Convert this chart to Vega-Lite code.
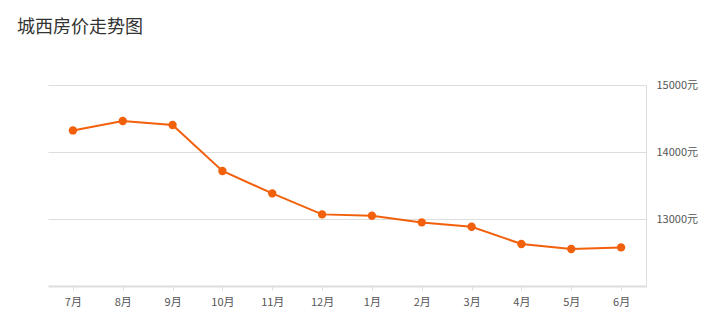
{
  "$schema": "https://vega.github.io/schema/vega-lite/v6.json",
  "autosize": "none",
  "width": 598,
  "height": 201,
  "padding": {"left": 48, "top": 85, "right": 75, "bottom": 40},
  "background": "#ffffff",
  "title": {
    "text": "城西房价走势图",
    "anchor": "start",
    "frame": "group",
    "dx": -31,
    "offset": 42,
    "fontSize": 18,
    "fontWeight": "normal",
    "font": "Noto Sans CJK SC",
    "color": "#333333"
  },
  "data": {
    "values": [
      {"month": "7月", "price": 14322},
      {"month": "8月", "price": 14463},
      {"month": "9月", "price": 14403},
      {"month": "10月", "price": 13716},
      {"month": "11月", "price": 13382},
      {"month": "12月", "price": 13069},
      {"month": "1月", "price": 13049},
      {"month": "2月", "price": 12949},
      {"month": "3月", "price": 12885},
      {"month": "4月", "price": 12627},
      {"month": "5月", "price": 12552},
      {"month": "6月", "price": 12576}
    ]
  },
  "encoding": {
    "x": {
      "field": "month",
      "type": "ordinal",
      "sort": null,
      "scale": {"type": "point", "padding": 0.5},
      "axis": {
        "title": null,
        "labelAngle": 0,
        "labelFont": "Noto Sans CJK SC",
        "labelFontSize": 11,
        "labelColor": "#555555",
        "labelPadding": 6,
        "domainColor": "#dddddd",
        "domainWidth": 2,
        "tickColor": "#dddddd",
        "tickSize": 4,
        "grid": false
      }
    },
    "y": {
      "field": "price",
      "type": "quantitative",
      "scale": {"domain": [12000, 15000], "nice": false, "zero": false},
      "axis": {
        "title": null,
        "orient": "right",
        "values": [13000, 14000, 15000],
        "labelExpr": "datum.value + '元'",
        "labelFont": "Noto Sans CJK SC",
        "labelFontSize": 11,
        "labelColor": "#555555",
        "labelPadding": 10,
        "ticks": false,
        "domainColor": "#dddddd",
        "domainWidth": 1,
        "gridColor": "#dddddd",
        "gridWidth": 1
      }
    }
  },
  "layer": [
    {"mark": {"type": "line", "color": "#f2600c", "strokeWidth": 2}},
    {"mark": {"type": "point", "filled": true, "opacity": 1, "color": "#f2600c", "size": 70}}
  ],
  "config": {
    "view": {"stroke": null}
  }
}
